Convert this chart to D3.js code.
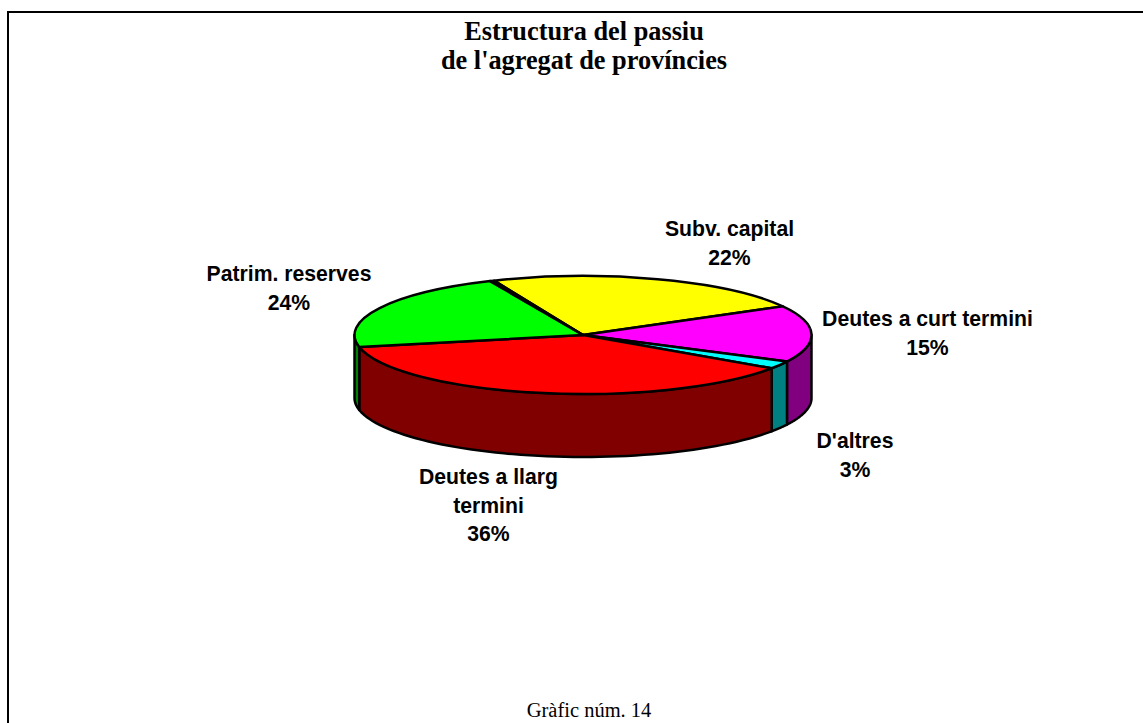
<!DOCTYPE html>
<html><head><meta charset="utf-8">
<script src="https://cdn.jsdelivr.net/npm/d3@7"></script>
<style>html,body{margin:0;padding:0;background:#fff}svg{display:block}</style></head>
<body><svg id="c" width="1143" height="723"></svg>
<script>
const categories = ["Subv. capital","Deutes a curt termini","D'altres","Deutes a llarg termini","Patrim. reserves","(separador)"];
const labelPercents = ["22%","15%","3%","36%","24%"];
// slice shares as measured on the drawn ellipse (the picture's perspective skews them from the labels)
const sliceShares = [23.3,15.5,2.1,37.2,21.6,0.3];
const topColors = ["#ffff00","#ff00ff","#00ffff","#ff0000","#00ff00","#000000"];
const wallColors = ["#808000","#800080","#008080","#800000","#008000","#000000"];
const titleLines = ["Estructura del passiu","de l'agregat de províncies"];
const labelLines = [["Subv. capital"],["Deutes a curt termini"],["D'altres"],["Deutes a llarg","termini"],["Patrim. reserves"]];
const labelAnchors = [[729.5,236],[927.5,326],[855,448],[488.5,484],[289,281]];

const svg = d3.select("#c");
const cx=583, cy=335, rx=228.5, ry=59, depth=63;
const deg=Math.PI/180;

svg.append("path").attr("d","M8 723V12H1143").attr("fill","none").attr("stroke","#000").attr("stroke-width",2);

svg.selectAll("text.t").data(titleLines).join("text").attr("class","t")
  .attr("x",584).attr("y",(d,i)=>40+i*29).attr("text-anchor","middle")
  .attr("font-family","Liberation Serif").attr("font-weight","bold").attr("font-size",26.3).text(d=>d);

const pie=d3.pie().sort(null).value(d=>d).startAngle(-22.9*deg).endAngle(337.1*deg);
const arcs=pie(sliceShares);
const px=a=>cx+rx*Math.sin(a), py=a=>cy-ry*Math.cos(a);
const lo=90*deg, hi=270*deg;

const g=svg.append("g");
arcs.forEach((d,i)=>{
  const a0=Math.max(d.startAngle,lo), a1=Math.min(d.endAngle,hi);
  if(a1<=a0) return;
  const n=60, pts=d3.range(n+1).map(k=>a0+(a1-a0)*k/n);
  const line=d3.line().x(a=>px(a));
  const top=line.y(a=>py(a))(pts);
  const bot=line.y(a=>py(a)+depth)(pts.slice().reverse());
  g.append("path").attr("d",top+"L"+bot.slice(1)+"Z")
    .attr("fill",wallColors[i]).attr("stroke","#000").attr("stroke-width",2.5).attr("stroke-linejoin","round");
});
const arc=d3.arc().innerRadius(0).outerRadius(rx);
svg.append("g").attr("transform",`translate(${cx},${cy}) scale(1,${ry/rx})`)
  .selectAll("path").data(arcs).join("path")
  .attr("d",arc).attr("fill",(d,i)=>topColors[i])
  .attr("stroke","#000").attr("stroke-width",2.5).attr("vector-effect","non-scaling-stroke").attr("stroke-linejoin","round");

labelLines.forEach((lines,i)=>{
  const a=labelAnchors[i];
  const all=lines.concat(labelPercents[i]);
  const t=svg.append("g").attr("font-family","Liberation Sans").attr("font-weight","bold")
    .attr("font-size",21.2).attr("text-anchor","middle").attr("fill","#000");
  all.forEach((s,k)=>t.append("text").attr("x",a[0]).attr("y",a[1]+k*28.5).text(s));
});

svg.append("text").attr("x",589).attr("y",717).attr("text-anchor","middle")
  .attr("font-family","Liberation Serif").attr("font-size",20.5).text("Gràfic núm. 14");
</script></body></html>
